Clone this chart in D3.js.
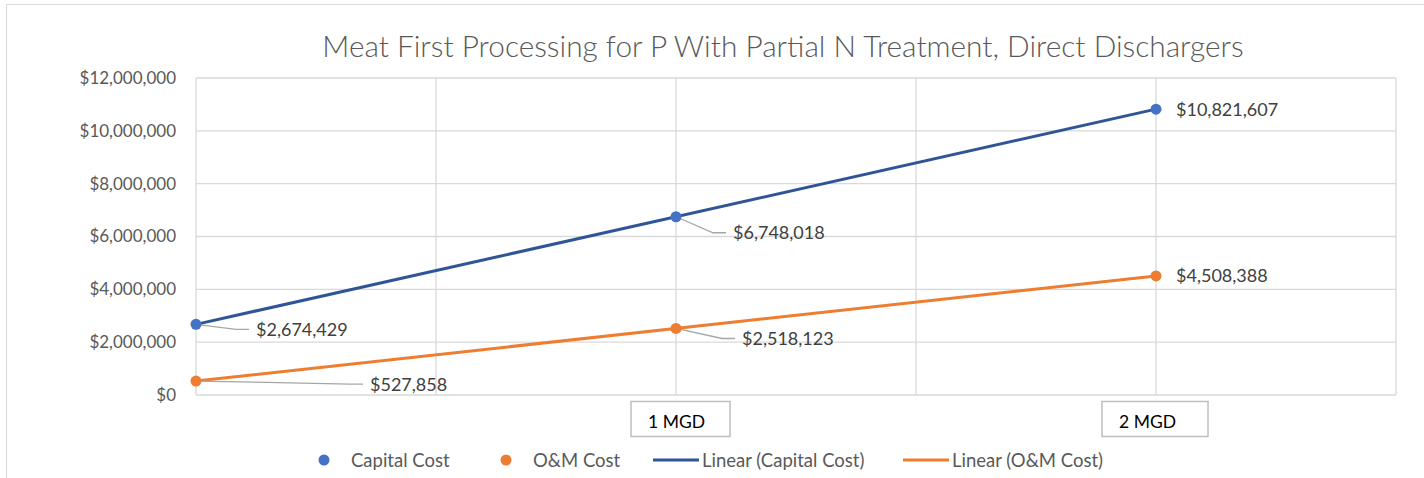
<!DOCTYPE html>
<html>
<head>
<meta charset="utf-8">
<script src="https://cdn.jsdelivr.net/npm/d3@7"></script>
<style>
  body { margin: 0; background: #fff; }
  svg { display: block; font-family: Lato, "Open Sans", sans-serif; }
</style>
</head>
<body>
<div id="chart"></div>
<script>
// chart data
const title = "Meat First Processing for P With Partial N Treatment, Direct Dischargers";
const flows = [0, 1, 2];
const capitalCost = [2674429, 6748018, 10821607];
const omCost = [527858, 2518123, 4508388];
const yTicks = [0, 2000000, 4000000, 6000000, 8000000, 10000000, 12000000];
const xGrid = [0, 0.5, 1, 1.5, 2, 2.5];
const flowLabels = [{ x: 1, text: "1 MGD" }, { x: 2, text: "2 MGD" }];
const legendItems = ["Capital Cost", "O&M Cost", "Linear (Capital Cost)", "Linear (O&M Cost)"];

const W = 1424, H = 478;
const margin = { left: 196, right: 28, top: 78, bottom: 83 };

const svg = d3.select("#chart").append("svg").attr("width", W).attr("height", H);

// outer chart border (only top/left are inside the picture)
svg.append("rect").attr("x", 6.5).attr("y", 4.5).attr("width", W + 20).attr("height", H + 20)
  .attr("fill", "none").attr("stroke", "#d9d9d9").attr("stroke-width", 1);

const x = d3.scaleLinear().domain([0, 2.5]).range([margin.left, W - margin.right]);
const y = d3.scaleLinear().domain([0, 12000000]).range([H - margin.bottom, margin.top]);

svg.append("text").attr("x", 783).attr("y", 57).attr("text-anchor", "middle")
  .attr("font-size", 29.8).attr("font-weight", 300).attr("fill", "#595959").text(title);

// gridlines
const grid = svg.append("g").attr("stroke", "#d9d9d9").attr("stroke-width", 1.3);
yTicks.forEach(t => grid.append("line")
  .attr("x1", x(0)).attr("x2", x(2.5)).attr("y1", y(t)).attr("y2", y(t)));
xGrid.forEach(t => grid.append("line")
  .attr("x1", x(t)).attr("x2", x(t)).attr("y1", y(0)).attr("y2", y(12000000)));

// y axis labels
const fmt = d3.format("$,.0f");
const yAxis = svg.append("g").attr("transform", `translate(${margin.left},0)`)
  .call(d3.axisLeft(y).tickValues(yTicks).tickFormat(fmt).tickSize(0).tickPadding(20));
yAxis.select(".domain").remove();
yAxis.selectAll("text").attr("font-size", 17).attr("fill", "#595959").attr("font-family", "Lato, sans-serif");

// MGD text boxes under the axis
flowLabels.forEach((f, i) => {
  const g = svg.append("g");
  const bx = x(f.x) - (i === 0 ? 45 : 54);
  g.append("rect").attr("x", bx).attr("y", 401.5).attr("width", i === 0 ? 99 : 106).attr("height", 35)
    .attr("fill", "#fff").attr("stroke", "#bfbfbf").attr("stroke-width", 1.5);
  g.append("text").attr("x", bx + 17).attr("y", 428).attr("font-size", 17.5).attr("fill", "#000").text(f.text);
});

// least squares trend
function linfit(xs, ys) {
  const mx = d3.mean(xs), my = d3.mean(ys);
  const b = d3.sum(xs, (v, i) => (v - mx) * (ys[i] - my)) / d3.sum(xs, v => (v - mx) ** 2);
  return { a: my - b * mx, b };
}

const series = [
  { values: capitalCost, marker: "#4472c4", line: "#2f5597" },
  { values: omCost, marker: "#ed7d31", line: "#ed7d31" }
];

series.forEach(s => {
  const fit = linfit(flows, s.values);
  const ends = [0, 2];
  svg.append("path")
    .attr("d", d3.line().x(d => x(d)).y(d => y(fit.a + fit.b * d))(ends))
    .attr("fill", "none").attr("stroke", s.line).attr("stroke-width", 3);
});

// data labels with leader lines: [dx to label, dy] offsets in px
const labelOffsets = [
  [[60, 5], [57, 16], [20, 0]],
  [[174, 3], [66, 10], [20, 0]]
];
series.forEach((s, si) => {
  s.values.forEach((v, i) => {
    const px = x(flows[i]), py = y(v);
    const [dx, dy] = labelOffsets[si][i];
    if (dx > 25) {
      svg.append("polyline")
        .attr("points", `${px},${py} ${px + dx - 20},${py + dy} ${px + dx - 7},${py + dy}`)
        .attr("fill", "none").attr("stroke", "#a6a6a6").attr("stroke-width", 1.3);
    }
    svg.append("text").attr("x", px + dx).attr("y", py + dy + 6.5)
      .attr("font-size", 18).attr("fill", "#404040").text(fmt(v));
  });
});

series.forEach(s => {
  svg.append("g").selectAll("circle").data(s.values).join("circle")
    .attr("cx", (d, i) => x(flows[i])).attr("cy", d => y(d)).attr("r", 5.5)
    .attr("fill", s.marker);
});

// legend
const lg = svg.append("g").attr("font-size", 18.5).attr("fill", "#595959");
const legendPos = [
  { x: 324, type: "dot", color: "#4472c4", tx: 351 },
  { x: 506, type: "dot", color: "#ed7d31", tx: 533 },
  { x: 653, type: "line", color: "#2f5597", tx: 702 },
  { x: 903, type: "line", color: "#ed7d31", tx: 952 }
];
legendItems.forEach((name, i) => {
  const p = legendPos[i];
  if (p.type === "dot") {
    lg.append("circle").attr("cx", p.x).attr("cy", 460).attr("r", 5.5).attr("fill", p.color);
  } else {
    lg.append("line").attr("x1", p.x).attr("x2", p.x + 46).attr("y1", 460).attr("y2", 460)
      .attr("stroke", p.color).attr("stroke-width", 3);
  }
  lg.append("text").attr("x", p.tx).attr("y", 466.5).text(name);
});
</script>
</body>
</html>
